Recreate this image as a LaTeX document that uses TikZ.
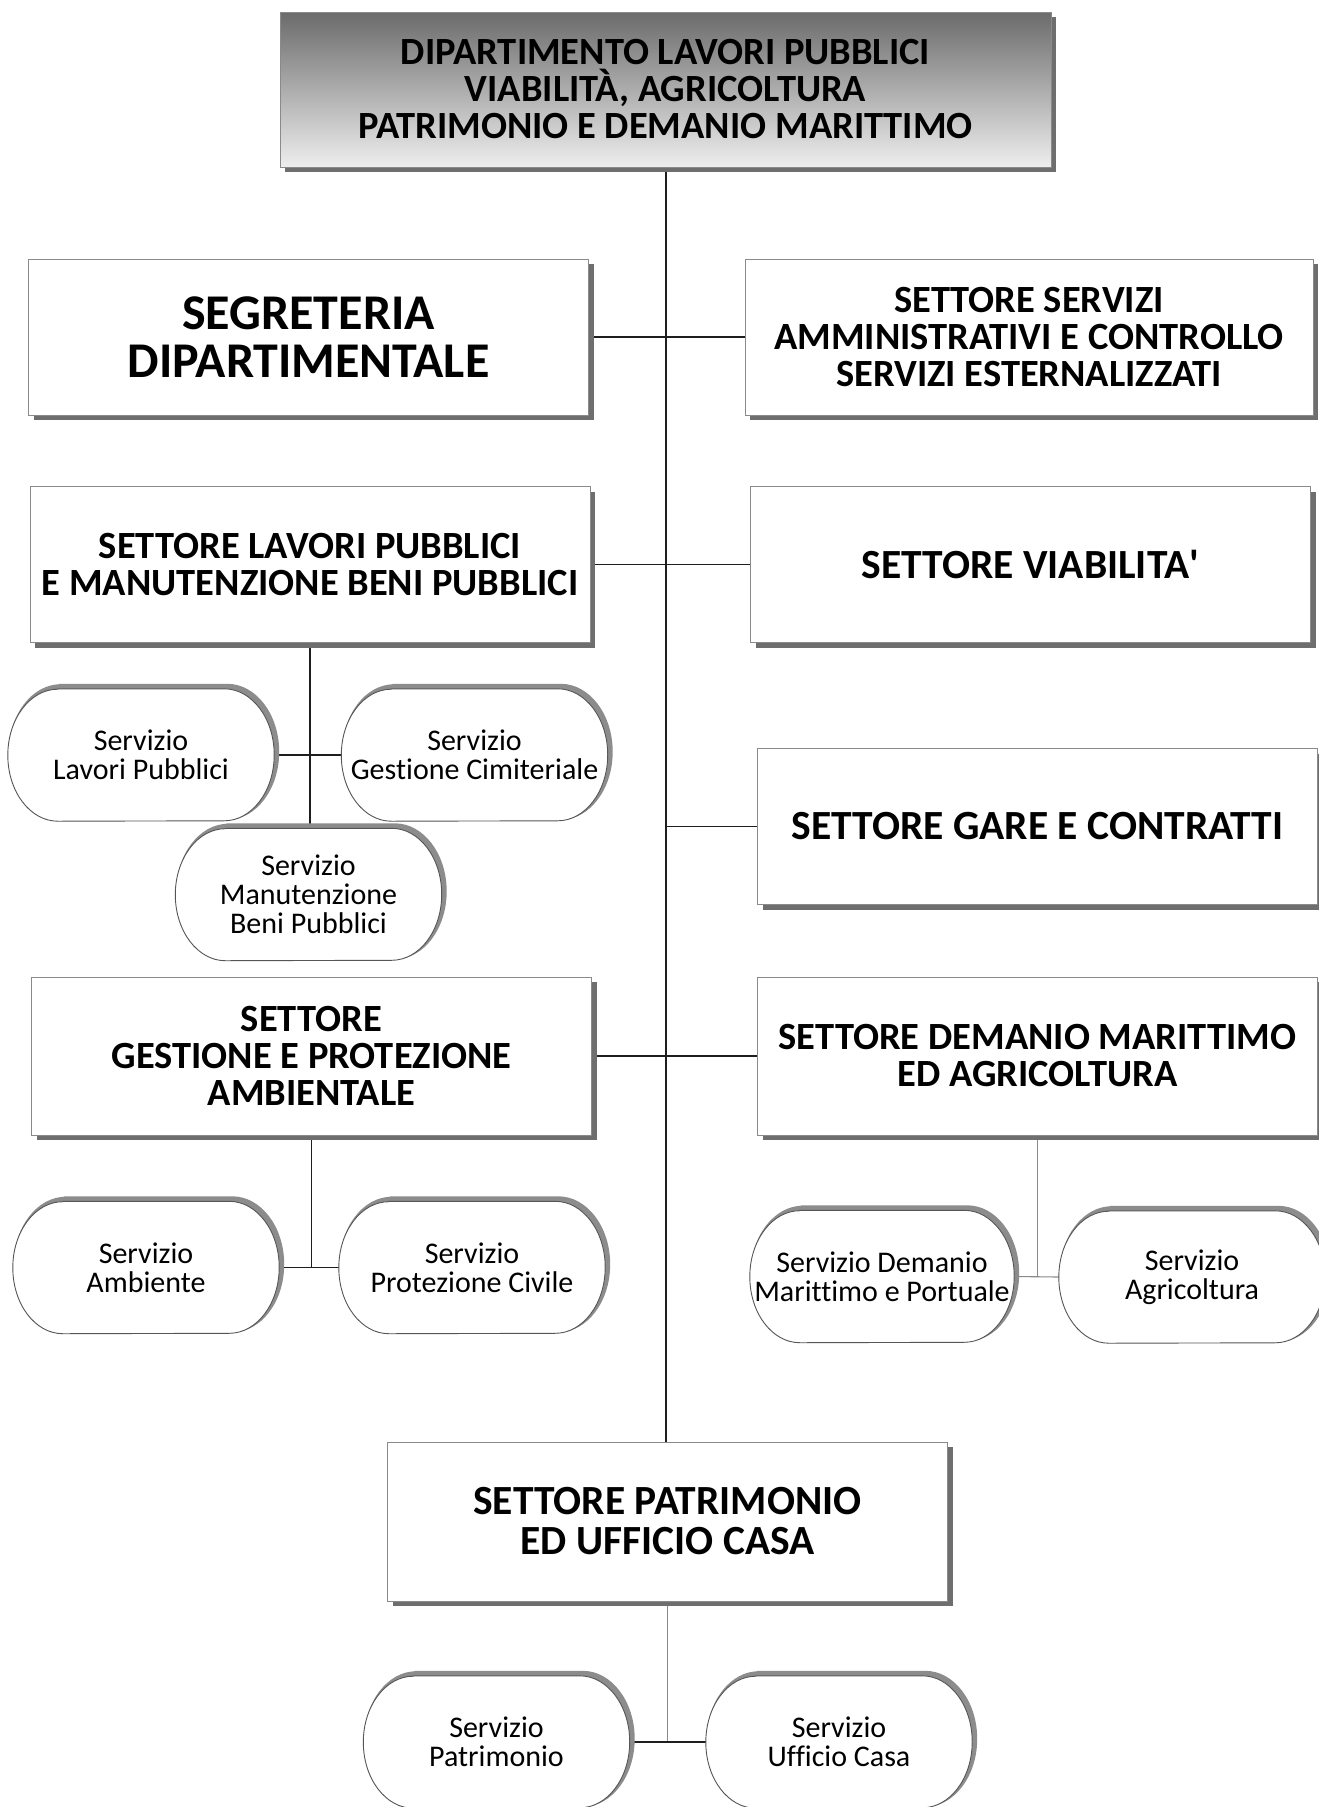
\documentclass[tikz,border=0pt]{standalone}
\usepackage{fontspec}
\setmainfont{Carlito}[Ligatures=NoCommon]
\newfontfamily\apfont{Carlito}
\usetikzlibrary{shadows}
\pgfdeclarelayer{back}
\pgfdeclarelayer{bg}
\pgfsetlayers{back,bg,main}
\definecolor{boxline}{HTML}{8A8A8A}
\definecolor{boxshadow}{HTML}{6E6E6E}
\definecolor{servshadow}{HTML}{8C8C8C}
\definecolor{servline}{HTML}{555555}
\definecolor{topdark}{HTML}{6B6B6B}
\definecolor{toplight}{HTML}{EEEEEE}
\definecolor{conncol}{HTML}{1E1E1E}
\definecolor{conngray}{HTML}{8A8A8A}
\newcommand\servpath[1]{([xshift=50pt]#1.north west) -- ([xshift=-50pt]#1.north east) arc[start angle=90,end angle=-90,x radius=50pt,y radius=66pt] -- ([xshift=50pt]#1.south west) arc[start angle=270,end angle=90,x radius=50pt,y radius=66pt] -- cycle}
\begin{document}
\begin{tikzpicture}[x=1pt,y=-1pt,
  sbox/.style={draw=boxline, line width=1pt, fill=white,
    general shadow={fill=boxshadow, shadow xshift=5pt, shadow yshift=-5pt},
    minimum width=560pt, minimum height=156pt, inner sep=0pt, align=center,
    font=\fontsize{38.5}{37}\selectfont\bfseries},
  bigfont/.style={font=\fontsize{41.5}{40}\selectfont\bfseries},
  topbox/.style={sbox, minimum width=771pt, minimum height=155pt, top color=topdark, bottom color=toplight},
  serv/.style={minimum width=266pt, minimum height=132pt, inner sep=0pt, align=center,
    font=\fontsize{30}{29}\selectfont},
  conn/.style={draw=conncol, line width=1.1pt},
  connl/.style={draw=conngray, line width=1.1pt},
  servdraw/.style={draw=servline, line width=0.9pt, fill=white},
  servshad/.style={draw=servshadow, line width=4pt, fill=servshadow}
]
\useasboundingbox (0,0) rectangle (1318,1807);
\begin{pgfonlayer}{back}
  \fill[white] (0,0) rectangle (1318,1807);
\end{pgfonlayer}

\coordinate (trunktop) at (666,167);
\node[topbox] (dip) at (665.5,89.5) {DIPARTIMENTO LAVORI PUBBLICI\\VIABILITÀ, AGRICOLTURA\\PATRIMONIO E DEMANIO MARITTIMO};
\node[sbox, font=\fontsize{50}{48}\selectfont\bfseries] (seg) at (308.5,337) {SEGRETERIA\\DIPARTIMENTALE};
\node[sbox, minimum width=568pt] (ssa) at (1029,337) {SETTORE SERVIZI\\AMMINISTRATIVI E CONTROLLO\\SERVIZI ESTERNALIZZATI};
\node[sbox] (lp) at (310,564.5) {SETTORE LAVORI PUBBLICI\\E MANUTENZIONE BENI PUBBLICI};
\node[sbox, bigfont] (viab) at (1030.5,564.5) {SETTORE VIABILITA{\apfont'}};
\node[sbox, bigfont] (gare) at (1037.5,826.5) {SETTORE GARE E CONTRATTI};
\node[sbox, minimum height=158pt] (gpa) at (311.5,1056) {SETTORE\\GESTIONE E PROTEZIONE\\AMBIENTALE};
\node[sbox, minimum height=158pt] (dm) at (1037.5,1056) {SETTORE DEMANIO MARITTIMO\\ED AGRICOLTURA};
\node[sbox, bigfont, minimum height=159pt] (pat) at (667.5,1521.5) {SETTORE PATRIMONIO\\ED UFFICIO CASA};

\node[serv] (slp) at (141,755) {Servizio\\Lavori Pubblici};
\node[serv] (sgc) at (474.5,755) {Servizio\\Gestione Cimiteriale};
\node[serv] (sman) at (308.5,894.5) {Servizio\\Manutenzione\\Beni Pubblici};
\node[serv] (samb) at (146,1267.5) {Servizio\\Ambiente};
\node[serv] (spc) at (472,1267.5) {Servizio\\Protezione Civile};
\node[serv, minimum width=264pt] (sdmp) at (882,1276.5) {Servizio Demanio\\Marittimo e Portuale};
\node[serv] (sagr) at (1192,1277) {Servizio\\Agricoltura};
\node[serv] (spat) at (496.5,1742) {Servizio\\Patrimonio};
\node[serv] (suc) at (839,1742) {Servizio\\Ufficio Casa};

\begin{pgfonlayer}{bg}
  \draw[conn] (dip.south -| trunktop) -- (trunktop |- pat.north);
  \draw[conn] (seg.east) -- (ssa.west);
  \draw[conn] (lp.east) -- (viab.west);
  \draw[conn] (trunktop |- gare.west) -- (gare.west);
  \draw[conn] (gpa.east) -- (dm.west);
  \draw[conn] (lp.south) -- (lp.south |- sman.north);
  \draw[conn] (slp.east) -- (sgc.west);
  \draw[conn] (gpa.south) -- (gpa.south |- samb.east);
  \draw[conn] (samb.east) -- (spc.west);
  \draw[connl] (dm.south) -- (dm.south |- sdmp.east);
  \draw[connl] (sdmp.east) -- (sagr.west);
  \draw[connl] (pat.south) -- (pat.south |- spat.east);
  \draw[conn] (spat.east) -- (suc.west);
  \foreach \n in {slp,sgc,sman,samb,spc,sdmp,sagr,spat,suc}{
    \path[servshad, transform canvas={xshift=3pt,yshift=3pt}] \servpath{\n};
    \path[servdraw] \servpath{\n};
  }
\end{pgfonlayer}
\end{tikzpicture}
\end{document}
